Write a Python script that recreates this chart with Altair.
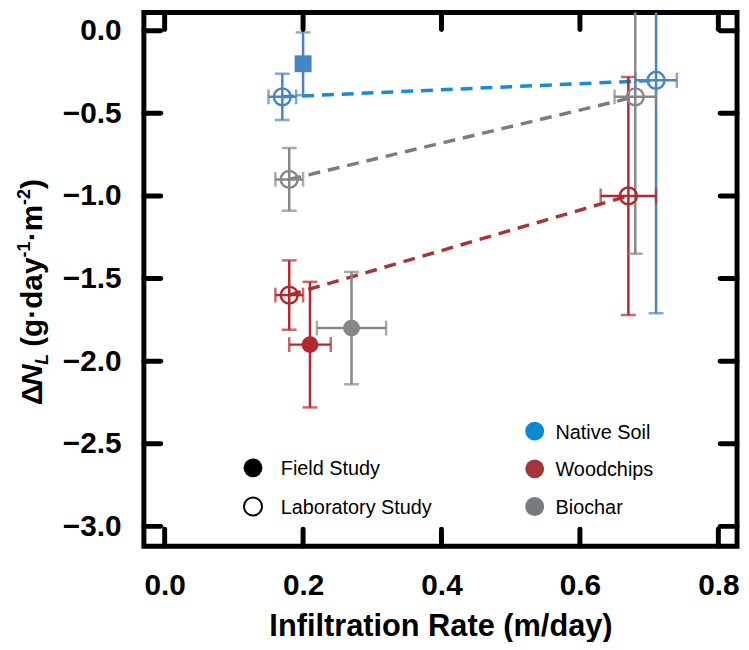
import altair as alt
import pandas as pd

# ---- data ----
material = ["Native Soil", "Native Soil", "Native Soil",
            "Woodchips", "Woodchips", "Woodchips",
            "Biochar", "Biochar", "Biochar"]
study = ["Field", "Lab", "Lab", "Field", "Lab", "Lab", "Field", "Lab", "Lab"]
marker_shape = ["square", "circle", "circle", "circle", "circle", "circle",
                "circle", "circle", "circle"]
x_val = [0.20, 0.17, 0.71, 0.21, 0.18, 0.67, 0.27, 0.18, 0.68]
y_val = [-0.20, -0.40, -0.30, -1.90, -1.60, -1.00, -1.80, -0.90, -0.40]
x_err = [0.01, 0.02, 0.03, 0.03, 0.02, 0.04, 0.05, 0.02, 0.03]
y_err = [0.19, 0.14, 1.41, 0.38, 0.21, 0.72, 0.34, 0.19, 0.95]

material_names = ["Native Soil", "Woodchips", "Biochar"]
marker_colors = ["#4a84c7", "#b3282e", "#878787"]
line_colors = ["#1a8bd3", "#a8343a", "#7c7c7c"]
legend_colors = ["#0b89d1", "#a6343b", "#767b7f"]
study_labels = ["Field Study", "Laboratory Study"]

x_ticks = [0.0, 0.2, 0.4, 0.6, 0.8]
y_ticks = [0.0, -0.5, -1.0, -1.5, -2.0, -2.5, -3.0]

W, H = 598, 538
FONT = "Liberation Sans"

df = pd.DataFrame(dict(material=material, study=study, shape=marker_shape,
                       x=x_val, y=y_val, xerr=x_err, yerr=y_err))
df["mcolor"] = df["material"].map(dict(zip(material_names, marker_colors)))
df["lcolor"] = df["material"].map(dict(zip(material_names, line_colors)))

xs = alt.Scale(domain=[-0.03, 0.827], nice=False, zero=False)
ys = alt.Scale(domain=[-3.12, 0.11], nice=False, zero=False)

x_axis = alt.Axis(values=x_ticks, format=".1f", title="Infiltration Rate (m/day)",
                  ticks=False, domain=False, grid=False,
                  labelFont=FONT, labelFontSize=30, labelFontWeight="bold",
                  labelColor="black", labelPadding=25,
                  titleFont=FONT, titleFontSize=31, titleFontWeight="bold",
                  titleColor="black", titleBaseline="alphabetic", titleY=90)
y_axis = alt.Axis(values=y_ticks, format=".1f", title=None,
                  ticks=False, domain=False, grid=False,
                  labelFont=FONT, labelFontSize=30, labelFontWeight="bold",
                  labelColor="black", labelPadding=23)


def X(f):
    return alt.X(f, type="quantitative", scale=xs, axis=x_axis)


def Y(f):
    return alt.Y(f, type="quantitative", scale=ys, axis=y_axis)


mcol = alt.Color("mcolor:N", scale=None)
base = alt.Chart(df)

lines = base.transform_filter(alt.datum.study == "Lab").mark_line(
    strokeDash=[12, 8], strokeWidth=3.5
).encode(x=X("x"), y=Y("y"), detail="material:N",
         color=alt.Color("lcolor:N", scale=None), order="x:Q")

eb = base.transform_calculate(
    ylo="datum.y - datum.yerr", yhi="datum.y + datum.yerr",
    xlo="datum.x - datum.xerr", xhi="datum.x + datum.xerr")

vbar = eb.mark_rule(strokeWidth=2.5, clip=True).encode(
    x=X("x"), y=Y("ylo"), y2="yhi:Q", color=mcol)
hbar = eb.mark_rule(strokeWidth=2.5, clip=True).encode(
    x=X("xlo"), x2="xhi:Q", y=Y("y"), color=mcol)
cap_lo = eb.mark_tick(orient="horizontal", size=15, thickness=2.5, clip=True).encode(
    x=X("x"), y=Y("ylo"), color=mcol)
cap_hi = eb.mark_tick(orient="horizontal", size=15, thickness=2.5, clip=True).encode(
    x=X("x"), y=Y("yhi"), color=mcol)
cap_l = eb.mark_tick(orient="vertical", size=15, thickness=2.5, clip=True).encode(
    x=X("xlo"), y=Y("y"), color=mcol)
cap_r = eb.mark_tick(orient="vertical", size=15, thickness=2.5, clip=True).encode(
    x=X("xhi"), y=Y("y"), color=mcol)

filled_pts = base.transform_filter(alt.datum.study == "Field").mark_point(
    filled=True, size=289, opacity=1
).encode(x=X("x"), y=Y("y"), shape=alt.Shape("shape:N", scale=None), color=mcol)
open_pts = base.transform_filter(alt.datum.study == "Lab").mark_point(
    filled=False, size=289, strokeWidth=2.5, opacity=1
).encode(x=X("x"), y=Y("y"), shape=alt.Shape("shape:N", scale=None), color=mcol)

# ---- inward ticks on all four sides ----
xt = alt.Chart(pd.DataFrame({"v": x_ticks}))
yt = alt.Chart(pd.DataFrame({"v": y_ticks}))
TL = 17
tick_style = dict(color="black", strokeWidth=5, strokeCap="round")
t_bottom = xt.mark_rule(**tick_style).encode(x=X("v"), y=alt.value(H), y2=alt.value(H - TL))
t_top = xt.mark_rule(**tick_style).encode(x=X("v"), y=alt.value(0), y2=alt.value(TL))
t_left = yt.mark_rule(**tick_style).encode(y=Y("v"), x=alt.value(0), x2=alt.value(TL))
t_right = yt.mark_rule(**tick_style).encode(y=Y("v"), x=alt.value(W), x2=alt.value(W - TL))

# ---- y-axis title built from pieces (rotated) ----
one = alt.Chart(pd.DataFrame({"t": [0]}))
TX, TY = -103, 396


def piece(text, offset, size=30, dx=0, italic=False):
    return one.mark_text(text=text, angle=270, align="left", baseline="alphabetic",
                         font=FONT, fontSize=size, fontWeight="bold",
                         fontStyle="italic" if italic else "normal",
                         color="black").encode(x=alt.value(TX + dx), y=alt.value(TY - offset))


ytitle = [
    piece("Δ", 0),
    piece("N", 19.5, italic=True),
    piece("L", 41, size=18, dx=6, italic=True),
    piece("(g·day", 59),
    piece("-1", 149, size=18, dx=-12),
    piece("·m", 165.5),
    piece("-2", 202, size=18, dx=-12),
    piece(")", 218),
]

# ---- legends ----
sdf = alt.Chart(pd.DataFrame({"label": study_labels}))
st = sdf.transform_window(rn="row_number()").transform_calculate(
    py="459 + (datum.rn - 1) * 39")
study_field = st.transform_filter(alt.datum.rn == 1).mark_point(
    filled=True, size=361, color="black", opacity=1
).encode(x=alt.value(110), y=alt.Y("py:Q", scale=None))
study_lab = st.transform_filter(alt.datum.rn == 2).mark_point(
    filled=False, size=330, color="black", strokeWidth=2, opacity=1
).encode(x=alt.value(110), y=alt.Y("py:Q", scale=None))
study_text = st.transform_calculate(ty="datum.py + 7.5").mark_text(
    align="left", baseline="alphabetic", font=FONT, fontSize=20, color="black"
).encode(x=alt.value(138), y=alt.Y("ty:Q", scale=None), text="label:N")

cdf = alt.Chart(pd.DataFrame({"label": material_names, "color": legend_colors}))
ct = cdf.transform_window(rn="row_number()").transform_calculate(
    py="422 + (datum.rn - 1) * 38")
col_pts = ct.mark_point(filled=True, size=361, opacity=1).encode(
    x=alt.value(394), y=alt.Y("py:Q", scale=None), color=alt.Color("color:N", scale=None))
col_text = ct.transform_calculate(ty="datum.py + 7.5").mark_text(
    align="left", baseline="alphabetic", font=FONT, fontSize=20, color="black"
).encode(x=alt.value(415), y=alt.Y("ty:Q", scale=None), text="label:N")

chart = alt.layer(
    lines, vbar, hbar, cap_lo, cap_hi, cap_l, cap_r, filled_pts, open_pts,
    t_bottom, t_top, t_left, t_right,
    *ytitle,
    study_field, study_lab, study_text, col_pts, col_text,
).properties(
    width=W, height=H,
    autosize=alt.AutoSizeParams(type="none"),
    padding={"left": 137, "top": 2, "right": 4, "bottom": 94},
).configure_view(stroke="black", strokeWidth=5)

chart.save("out.html", embed_options={"renderer": "svg", "actions": False})
